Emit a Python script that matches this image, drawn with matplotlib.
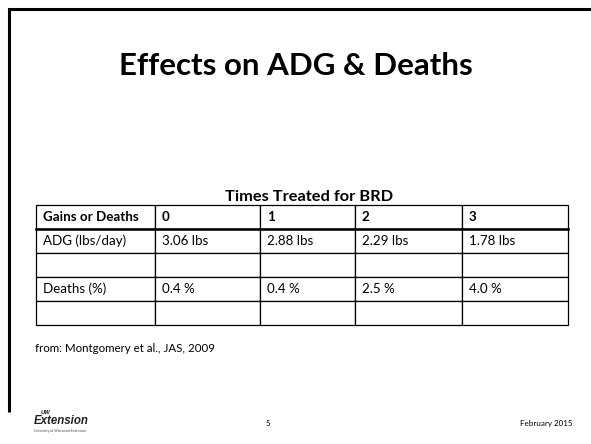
import matplotlib.pyplot as plt

# slide data
title = "Effects on ADG & Deaths"
table_title = "Times Treated for BRD"
col_labels = ["Gains or Deaths", "0", "1", "2", "3"]
row_adg = ["ADG (lbs/day)", "3.06 lbs", "2.88 lbs", "2.29 lbs", "1.78 lbs"]
row_deaths = ["Deaths (%)", "0.4 %", "0.4 %", "2.5 %", "4.0 %"]
blank = ["", "", "", "", ""]
col_px = [119, 105, 95, 107, 106]
source = "from: Montgomery et al., JAS, 2009"
page = "5"
date = "February 2015"

W, H = 591, 444
plt.rcParams['font.family'] = ['Lato', 'DejaVu Sans']

fig = plt.figure(figsize=(W / 100, H / 100), dpi=100)
ax = fig.add_axes([0, 0, 1, 1])
ax.set_xlim(0, W)
ax.set_ylim(H, 0)
ax.axis('off')

# slide frame (left and top)
ax.plot([8.5, 8.5, W], [412, 9.5, 9.5], color='black', lw=2.2,
        solid_capstyle='butt', solid_joinstyle='miter')

ax.text(W / 2, 75, title, ha='center', va='baseline', fontsize=22.5,
        fontweight='bold')
ax.text(309, 201, table_title, ha='center', va='baseline', fontsize=11.8,
        fontweight='bold')

rows = [row_adg, blank, row_deaths, blank]
x0, x1 = 36, 568
y_top, y_bot = 205, 325
tot = sum(col_px)
tbl = ax.table(cellText=rows, colLabels=col_labels, cellLoc='left',
               colLoc='left', colWidths=[c / tot for c in col_px],
               bbox=[x0 / W, 1 - y_bot / H, (x1 - x0) / W, (y_bot - y_top) / H])
tbl.auto_set_font_size(False)
for (r, c), cell in tbl.get_celld().items():
    cell.set_edgecolor('black')
    cell.set_linewidth(0.9)
    cell.PAD = 7 / col_px[c]
    cell.get_text().set_fontsize(9.6)
    if r == 0:
        cell.get_text().set_fontweight('bold')

# thicker line under header
ax.plot([x0, x1], [229, 229], color='black', lw=1.8)

ax.text(35, 348, source, ha='left', va='center', fontsize=8.3)

# footer
ax.text(268, 423, page, ha='center', va='center', fontsize=5.5)
ax.text(572, 423, date, ha='right', va='center', fontsize=5.8)
ax.text(34, 421, "Extension", ha='left', va='center', fontsize=8.3,
        fontstyle='italic', fontweight='bold', color='#222222',
        family='Liberation Sans')
ax.text(41, 412, "UW", ha='left', va='center', fontsize=4.2,
        fontstyle='italic', color='#222222', fontweight='bold',
        family='Liberation Sans')
ax.text(34, 431, "University of Wisconsin-Extension", ha='left', va='center',
        fontsize=2.4, color='#444444')

fig.savefig("out.png", dpi=100)
